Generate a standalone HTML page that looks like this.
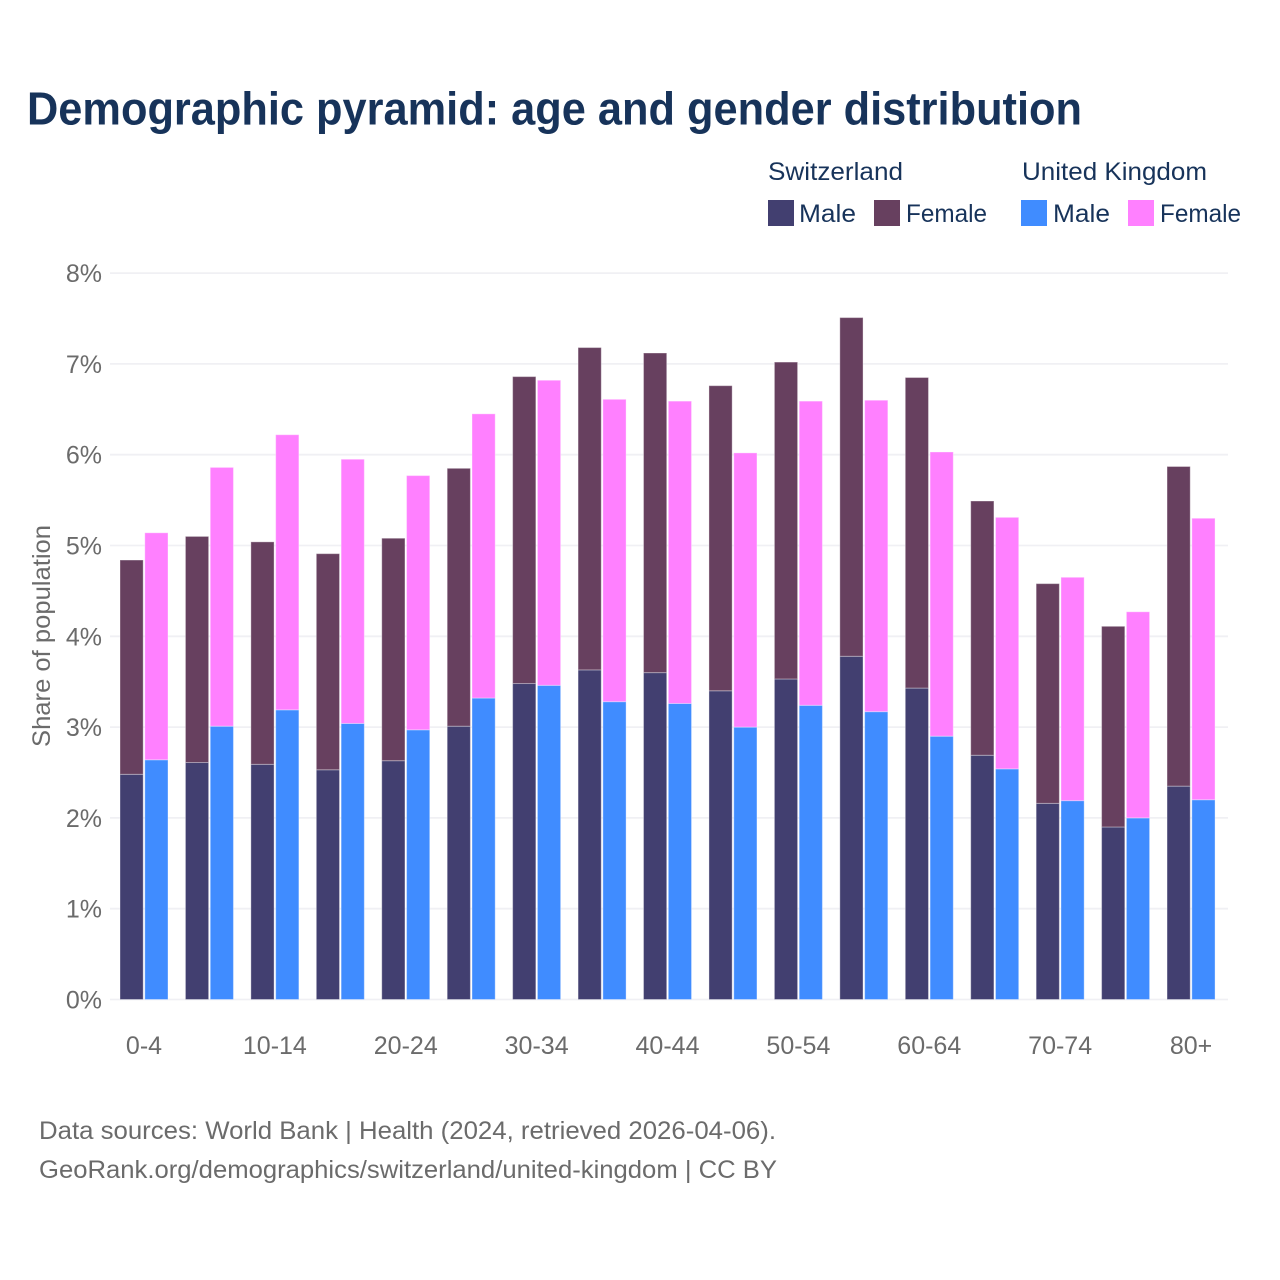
<!DOCTYPE html>
<html lang="en">
<head>
<meta charset="utf-8">
<title>Demographic pyramid</title>
<style>
html,body{margin:0;padding:0;background:#fff;}
svg{display:block;font-family:"Liberation Sans",Arial,sans-serif;}
</style>
</head>
<body>
<svg id="chart" xmlns="http://www.w3.org/2000/svg" width="1280" height="1280" viewBox="0 0 1280 1280">
  <rect x="0" y="0" width="1280" height="1280" fill="#ffffff"/>
  <text x="27" y="124.5" font-size="46" font-weight="700" fill="#17335a" textLength="1055" lengthAdjust="spacingAndGlyphs">Demographic pyramid: age and gender distribution</text>

  <g font-size="25" fill="#17335a">
    <text x="768" y="180" textLength="135" lengthAdjust="spacingAndGlyphs">Switzerland</text>
    <text x="1022" y="180" textLength="185" lengthAdjust="spacingAndGlyphs">United Kingdom</text>
    <rect x="768" y="200" width="26" height="26" fill="#423f70"/>
    <text x="799" y="222" textLength="57" lengthAdjust="spacingAndGlyphs">Male</text>
    <rect x="874" y="200" width="26" height="26" fill="#67405f"/>
    <text x="906" y="222" textLength="81" lengthAdjust="spacingAndGlyphs">Female</text>
    <rect x="1021" y="200" width="26" height="26" fill="#408cff"/>
    <text x="1053" y="222" textLength="57" lengthAdjust="spacingAndGlyphs">Male</text>
    <rect x="1128" y="200" width="26" height="26" fill="#ff80ff"/>
    <text x="1160" y="222" textLength="81" lengthAdjust="spacingAndGlyphs">Female</text>
  </g>

  <g id="grid"></g>
  <g id="yticks" font-size="25" fill="#6b6b6b" text-anchor="end"></g>
  <g id="bars"></g>
  <g id="xticks" font-size="25" fill="#6b6b6b" text-anchor="middle"></g>

  <text transform="translate(50 636) rotate(-90)" font-size="25" fill="#6b6b6b" text-anchor="middle" textLength="222" lengthAdjust="spacingAndGlyphs">Share of population</text>

  <text x="39" y="1139" font-size="25" fill="#6b6b6b" textLength="737" lengthAdjust="spacingAndGlyphs">Data sources: World Bank | Health (2024, retrieved 2026-04-06).</text>
  <text x="39" y="1178" font-size="25" fill="#6b6b6b" textLength="738" lengthAdjust="spacingAndGlyphs">GeoRank.org/demographics/switzerland/united-kingdom | CC BY</text>
</svg>
<script>
const categories = ["0-4","5-9","10-14","15-19","20-24","25-29","30-34","35-39","40-44","45-49","50-54","55-59","60-64","65-69","70-74","75-79","80+"];
const chMale = [2.48,2.61,2.59,2.53,2.63,3.01,3.48,3.63,3.60,3.40,3.53,3.78,3.43,2.69,2.16,1.90,2.35];
const chFemale = [2.36,2.49,2.45,2.38,2.45,2.84,3.38,3.55,3.52,3.36,3.49,3.73,3.42,2.80,2.42,2.21,3.52];
const ukMale = [2.64,3.01,3.19,3.04,2.97,3.32,3.46,3.28,3.26,3.00,3.24,3.17,2.90,2.54,2.19,2.00,2.20];
const ukFemale = [2.50,2.85,3.03,2.91,2.80,3.13,3.36,3.33,3.33,3.02,3.35,3.43,3.13,2.77,2.46,2.27,3.10];
const yTicks = [0,1,2,3,4,5,6,7,8];
const tickEvery = 2;

const NS = "http://www.w3.org/2000/svg";
const yScale = function (v) { return 999.5 - v * 90.8; };
const xScale = function (i) { return 144 + i * 65.44; };
const barWidth = 23.2;
const barOffset = 12.4;

const grid = document.getElementById("grid");
const yTickGroup = document.getElementById("yticks");
yTicks.forEach(function (t) {
  const line = document.createElementNS(NS, "line");
  
  
  line.setAttribute("x1", 110);
  line.setAttribute("x2", 1228);
  line.setAttribute("y1", yScale(t));
  line.setAttribute("y2", yScale(t));
  line.setAttribute("stroke", "#f0f0f4");
  line.setAttribute("stroke-width", 1.8);
  grid.appendChild(line);
  const label = document.createElementNS(NS, "text");
  
  
  label.setAttribute("x", 102);
  label.setAttribute("y", yScale(t) + 9);
  label.textContent = t + "%";
  yTickGroup.appendChild(label);
});

const barsGroup = document.getElementById("bars");
function addBar(cx, bottom, value, color, name) {
  const top = bottom + value;
  const r = document.createElementNS(NS, "rect");
  
  
  r.setAttribute("x", cx - barWidth / 2);
  r.setAttribute("y", yScale(top));
  r.setAttribute("width", barWidth);
  r.setAttribute("height", yScale(bottom) - yScale(top));
  r.setAttribute("fill", color);
  r.setAttribute("stroke", "#ffffff");
  r.setAttribute("stroke-opacity", "0.35");
  r.setAttribute("stroke-width", 1);
  barsGroup.appendChild(r);
}
categories.forEach(function (c, i) {
  const cx = xScale(i);
  addBar(cx - barOffset, 0, chMale[i], "#423f70", "bar-switzerland-male");
  addBar(cx - barOffset, chMale[i], chFemale[i], "#67405f", "bar-switzerland-female");
  addBar(cx + barOffset, 0, ukMale[i], "#408cff", "bar-uk-male");
  addBar(cx + barOffset, ukMale[i], ukFemale[i], "#ff80ff", "bar-uk-female");
});

const xTickGroup = document.getElementById("xticks");
categories.forEach(function (c, i) {
  if (i % tickEvery !== 0) return;
  const label = document.createElementNS(NS, "text");
  
  
  label.setAttribute("x", xScale(i));
  label.setAttribute("y", 1054);
  label.textContent = c;
  xTickGroup.appendChild(label);
});
</script>
</body>
</html>
